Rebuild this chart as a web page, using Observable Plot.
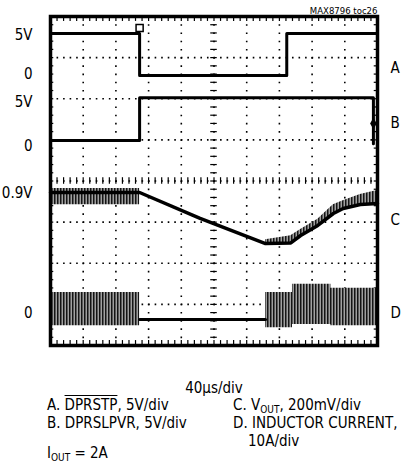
<!DOCTYPE html>
<html><head><meta charset="utf-8">
<script src="https://cdn.jsdelivr.net/npm/d3@7"></script>
<script src="https://cdn.jsdelivr.net/npm/@observablehq/plot@0.6"></script>
<style>
body{margin:0;background:#fff;}
#wrap{position:relative;width:401px;height:466px;font-family:"Liberation Sans Narrow","Arial Narrow","DejaVu Sans Condensed",sans-serif;color:#000;overflow:hidden;}
#wrap svg{position:absolute;left:0;top:0;}
.t{position:absolute;font-size:15px;line-height:15px;white-space:nowrap;}
.t sub{font-size:10px;vertical-align:-3px;line-height:0;}
.ov{text-decoration:overline;}
</style></head><body><div id="wrap"></div>
<script>
// ---- time base: 40 µs/div, 10 divisions (0–400 µs) ----
const gridTimes = [40, 80, 120, 160, 200, 240, 280, 320, 360];
const gridDivs = [-3, -2, -1, 0, 1, 2, 3];

// ---- trace A: DPRSTP (V) ----
const aTime = [0, 109, 109, 289, 289, 400];
const aVolt = [5.1, 5.1, 0, 0, 5.1, 5.1];

// ---- trace B: DPRSLPVR (V) ----
const bTime = [0, 109, 109, 395, 395];
const bVolt = [0, 0, 5.2, 5.2, -0.4];

// ---- trace C: VOUT (V) ----
const cTime = [0, 109, 183, 263, 294, 306, 327, 346, 358, 379, 400];
const cVolt = [0.90, 0.90, 0.774, 0.652, 0.655, 0.691, 0.740, 0.798, 0.822, 0.842, 0.847];
// C ripple band (envelope)
const cBandSeg = ["pre", "pre", "post", "post", "post", "post", "post", "post", "post", "post"];
const cBandTime = [0, 109, 263, 294, 306, 327, 346, 358, 379, 400];
const cBandLow = [0.84, 0.84, 0.652, 0.655, 0.691, 0.740, 0.798, 0.822, 0.842, 0.847];
const cBandHigh = [0.92, 0.92, 0.67, 0.69, 0.72, 0.77, 0.84, 0.86, 0.89, 0.91];

// ---- trace D: inductor current (A) ----
const dTime = [109, 263];
const dAmp = [0, 0];
const dEnvSeg = ["pre", "pre", "post", "post", "post", "post", "post", "post"];
const dEnvTime = [0, 109, 263, 296, 296, 343, 343, 400];
const dEnvLow = [-1.5, -1.5, -2.0, -2.0, -1.2, -1.2, -1.5, -1.5];
const dEnvHigh = [6.6, 6.6, 6.6, 6.6, 8.6, 8.6, 7.6, 7.6];

// ---- labels ----
const leftLabels = ["5V", "0", "5V", "0", "0.9V", "0"];
const leftLabelDiv = [3.54, 2.59, 1.91, 0.84, -0.30, -3.22];
const rightLabels = ["A", "B", "C", "D"];
const rightLabelDiv = [2.74, 1.40, -0.96, -3.22];

// channel zero positions (divisions from centre) and units/div
const toDiv = {
  A: v => 2.565 + v / 5,
  B: v => 0.985 + v / 5,
  C: v => -0.28 + (v - 0.9) / 0.2,
  D: v => -3.37 + v / 10
};

const aData = aTime.map((t, i) => ({t, y: toDiv.A(aVolt[i])}));
const bData = bTime.map((t, i) => ({t, y: toDiv.B(bVolt[i])}));
const cData = cTime.map((t, i) => ({t, y: toDiv.C(cVolt[i])}));
const cBand = cBandTime.map((t, i) => ({t, seg: cBandSeg[i], lo: toDiv.C(cBandLow[i]), hi: toDiv.C(cBandHigh[i])}));
const dData = dTime.map((t, i) => ({t, y: toDiv.D(dAmp[i])}));
const dEnv = dEnvTime.map((t, i) => ({t, seg: dEnvSeg[i], lo: toDiv.D(dEnvLow[i]), hi: toDiv.D(dEnvHigh[i])}));
const leftData = leftLabels.map((s, i) => ({s, y: leftLabelDiv[i]}));
const rightData = rightLabels.map((s, i) => ({s, y: rightLabelDiv[i]}));

const minorX = d3.range(0, 400.01, 8);
const minorY = d3.range(-4, 4.001, 0.2);

const fontFam = '"Liberation Sans Narrow","Arial Narrow","DejaVu Sans Condensed",sans-serif';

const svg = Plot.plot({
  width: 401, height: 360,
  marginLeft: 50, marginRight: 24, marginTop: 16, marginBottom: 15,
  x: {domain: [0, 400], axis: null},
  y: {domain: [-4, 4], axis: null},
  style: {fontFamily: fontFam, background: "white", overflow: "visible"},
  marks: [
    // dotted graticule
    Plot.ruleX(gridTimes, {stroke: "#000", strokeWidth: 1.6, strokeDasharray: "1.6,6.62"}),
    Plot.ruleY(gridDivs, {stroke: "#000", strokeWidth: 1.6, strokeDasharray: "1.6,4.94"}),
    // centre-axis ticks
    Plot.ruleY(minorY, {y: d => d, x1: 196, x2: 204, stroke: "#000", strokeWidth: 1.2}),
    Plot.ruleX(minorX, {x: d => d, y1: -0.08, y2: 0.08, stroke: "#000", strokeWidth: 1.2}),
    // border ticks
    Plot.ruleX(minorX, {x: d => d, y1: 4, y2: 3.88, stroke: "#000", strokeWidth: 1.2}),
    Plot.ruleX(minorX, {x: d => d, y1: -4, y2: -3.88, stroke: "#000", strokeWidth: 1.2}),
    Plot.ruleY(minorY, {y: d => d, x1: 0, x2: 4, stroke: "#000", strokeWidth: 1.2}),
    Plot.ruleY(minorY, {y: d => d, x1: 400, x2: 396, stroke: "#000", strokeWidth: 1.2}),
    // ripple envelopes
    Plot.areaY(dEnv, {x: "t", y1: "lo", y2: "hi", z: "seg", fill: "url(#noise)", curve: "linear"}),
    Plot.areaY(cBand, {x: "t", y1: "lo", y2: "hi", z: "seg", fill: "url(#noise)", curve: "linear"}),
    // traces
    Plot.line(aData, {x: "t", y: "y", stroke: "#000", strokeWidth: 3}),
    Plot.line(bData, {x: "t", y: "y", stroke: "#000", strokeWidth: 3}),
    Plot.line(cData, {x: "t", y: "y", stroke: "#000", strokeWidth: 3.5, strokeLinejoin: "round"}),
    Plot.line(dData, {x: "t", y: "y", stroke: "#000", strokeWidth: 3}),
    // markers
    Plot.dot([{t: 109, y: 3.72}], {x: "t", y: "y", symbol: "square", r: 4, fill: "white", stroke: "#000", strokeWidth: 1.5}),
    Plot.dot([{t: 395, y: 1.40}], {x: "t", y: "y", symbol: "diamond", r: 3.5, fill: "#000"}),
    // frame
    Plot.frame({stroke: "#000", strokeWidth: 3.5}),
    // labels
    Plot.text(leftData, {y: "y", text: "s", frameAnchor: "left", textAnchor: "end", dx: -18, fontSize: 15}),
    Plot.text(rightData, {y: "y", text: "s", frameAnchor: "right", textAnchor: "start", dx: 13, fontSize: 15}),
    Plot.text(["MAX8796 toc26"], {text: d => d, frameAnchor: "top-right", textAnchor: "end", lineAnchor: "bottom", dy: -3, fontSize: 9.5})
  ]
});

const defs = d3.select(svg).insert("defs", ":first-child");
const pat = defs.append("pattern").attr("id", "noise").attr("patternUnits", "userSpaceOnUse").attr("width", 3).attr("height", 6);
pat.append("rect").attr("width", 3).attr("height", 6).attr("fill", "#a0a0a0");
pat.append("rect").attr("width", 1.5).attr("height", 6).attr("fill", "#151515");

const wrap = document.getElementById("wrap");
wrap.appendChild(svg);

const captions = [
  {x: 214, y: 381, html: "40\u00b5s/div", center: true},
  {x: 47, y: 398, html: 'A. <span class="ov">DPRSTP</span>, 5V/div'},
  {x: 47, y: 416, html: "B. DPRSLPVR, 5V/div"},
  {x: 47, y: 446, html: "I<sub>OUT</sub> = 2A"},
  {x: 233, y: 398, html: "C. V<sub>OUT</sub>, 200mV/div"},
  {x: 233, y: 416, html: "D. INDUCTOR CURRENT,"},
  {x: 248, y: 434, html: "10A/div"}
];
for (const c of captions) {
  const el = document.createElement("div");
  el.className = "t";
  el.innerHTML = c.html;
  el.style.top = c.y + "px";
  if (c.center) { el.style.left = (c.x - 100) + "px"; el.style.width = "200px"; el.style.textAlign = "center"; }
  else el.style.left = c.x + "px";
  wrap.appendChild(el);
}
</script>
</body></html>
